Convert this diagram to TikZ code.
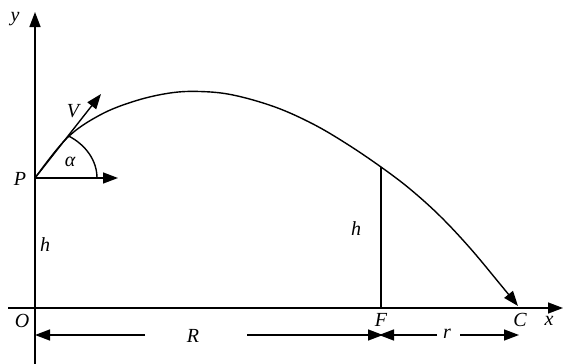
\documentclass[tikz,border=0pt]{standalone}
\usepackage{fontspec}
\setmainfont{Liberation Serif}
\usetikzlibrary{arrows.meta}
\begin{document}
\begin{tikzpicture}[x=1pt,y=-1pt,
  line/.style={line width=1.4pt},
  tip/.style={-{Triangle[length=15pt,width=11pt]}},
  lbl/.style={font=\fontsize{20}{23}\selectfont\itshape, inner sep=0pt}]
\useasboundingbox (0,0) rectangle (563,364);
% key points
\coordinate (O) at (35,308);
\coordinate (P) at (35,178);
\coordinate (F) at (381,308);
\coordinate (Ftop) at (381,167);
\coordinate (C) at (518,306);
\coordinate (ybot) at (35,364);
\coordinate (ytop) at (35,12);
\coordinate (xleft) at (8,308);
\coordinate (xright) at (563,308);
\coordinate (Htip) at (118,178);
\coordinate (Vtip) at (101,94);
\coordinate (Aend) at (97,178);
\coordinate (dO) at (35,335);
\coordinate (dR1) at (145,335);
\coordinate (dR2) at (247,335);
\coordinate (dF) at (383,335);
\coordinate (dFl) at (379,335);
\coordinate (dr1) at (437,335);
\coordinate (dr2) at (460,335);
\coordinate (dC) at (519,335);
% axes
\draw[line,tip] (ybot) -- (ytop);
\draw[line,tip] (xleft) -- (xright);
% trajectory
\draw[line,tip] plot[smooth,tension=0.6] coordinates {(P) (67,138) (100,115) (135,101) (170,93) (200,91.5) (233,95) (275,107) (313,124) (347,144) (Ftop) (410,189) (440,216) (470,248) (500,284) (C)};
% velocity and horizontal arrows
\draw[line,tip] (P) -- (Vtip);
\draw[line,tip] (P) -- (Htip);
\draw[line] (Aend) arc[start angle=0,end angle=-57.7,x radius=62,y radius=50];
% vertical line at F
\draw[line] (Ftop) -- (F);
% dimension lines
\draw[line,tip] (dR1) -- (dO);
\draw[line,tip] (dR2) -- (dF);
\draw[line,tip] (dr1) -- (dFl);
\draw[line,tip] (dr2) -- (dC);
% labels
\node[lbl] (ly) at (15,19) {y};
\node[lbl] (lx) at (549,321) {x};
\node[lbl] (lO) at (22,321) {O};
\node[lbl] (lP) at (20,179) {P};
\node[lbl] (lh1) at (45,245) {h};
\node[lbl] (lh2) at (356,229) {h};
\node[lbl] (la) at (70,162) {α};
\node[lbl] (lV) at (73,111) {V};
\node[lbl] (lF) at (381,320) {F};
\node[lbl] (lC) at (520,320) {C};
\node[lbl] (lR) at (193,336) {R};
\node[lbl] (lr) at (447,334) {r};
\end{tikzpicture}
\end{document}
